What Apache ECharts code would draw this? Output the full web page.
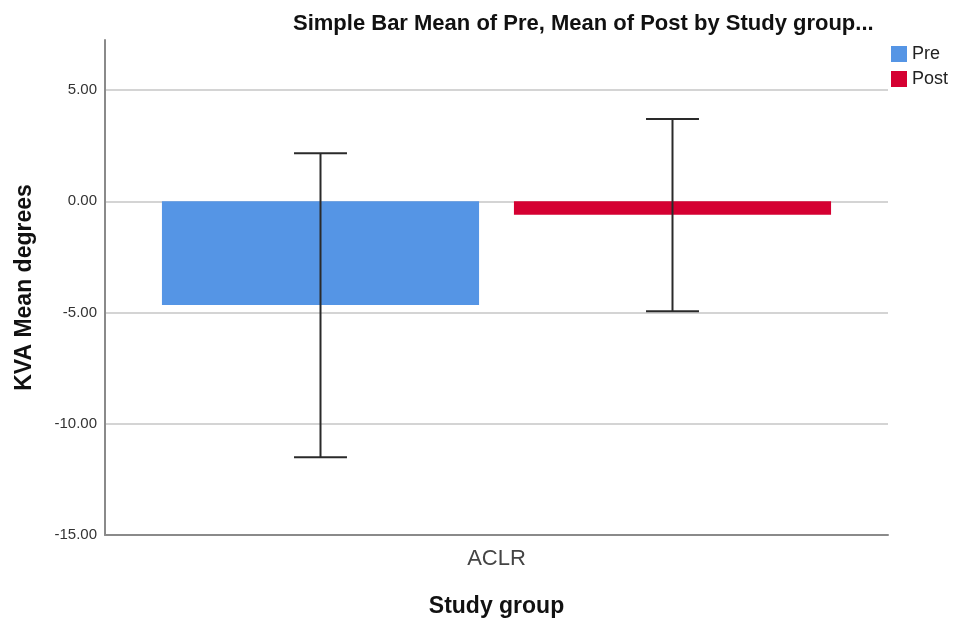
<!DOCTYPE html>
<html>
<head>
<meta charset="utf-8">
<script src="https://cdn.jsdelivr.net/npm/echarts@6/dist/echarts.min.js"></script>
<style>
html,body{margin:0;padding:0;background:#fff;}
#chart{width:953px;height:619px;}
</style>
</head>
<body>
<div id="chart"></div>
<script>
var categories = ['ACLR'];
var seriesNames = ['Pre', 'Post'];
var preMean = [-4.66];
var postMean = [-0.60];
var preLow = [-11.51];
var preHigh = [2.16];
var postLow = [-4.94];
var postHigh = [3.70];
var yTicks = [-15, -10, -5, 0, 5];

var BAR_W = 0.405;   // fraction of category band
var BAR_GAP = 0.11;  // fraction of bar width
var CAP = 0.167;     // cap width as fraction of bar width
var colors = ['#5595E5', '#D50032'];

function errorSeries(name, idx, lows, highs) {
  var sign = idx === 0 ? -1 : 1;
  return {
    name: name + ' CI',
    type: 'custom',
    z: 10,
    silent: true,
    data: categories.map(function (c, i) { return [i, lows[i], highs[i]]; }),
    renderItem: function (params, api) {
      var band = api.size([1, 0])[0];
      var barW = band * BAR_W;
      var off = sign * barW * (1 + BAR_GAP) / 2;
      var lo = api.coord([api.value(0), api.value(1)]);
      var hi = api.coord([api.value(0), api.value(2)]);
      var x = lo[0] + off;
      var cw = barW * CAP / 2;
      var st = { stroke: '#2a2a2a', lineWidth: 2 };
      return {
        type: 'group',
        children: [
          { type: 'line', shape: { x1: x, y1: hi[1], x2: x, y2: lo[1] }, style: st },
          { type: 'line', shape: { x1: x - cw, y1: hi[1], x2: x + cw, y2: hi[1] }, style: st },
          { type: 'line', shape: { x1: x - cw, y1: lo[1], x2: x + cw, y2: lo[1] }, style: st }
        ]
      };
    }
  };
}

var chart = echarts.init(document.getElementById('chart'), null, { renderer: 'canvas' });
chart.setOption({
  animation: false,
  backgroundColor: '#ffffff',
  title: {
    text: 'Simple Bar Mean of Pre, Mean of Post by Study group...',
    left: 288,
    top: 8,
    textStyle: { fontFamily: 'Liberation Sans, Arial', fontWeight: 'bold', fontSize: 22, color: '#111' }
  },
  legend: {
    data: seriesNames,
    orient: 'vertical',
    left: 886,
    top: 40,
    itemWidth: 16,
    itemHeight: 16,
    itemGap: 7,
    icon: 'rect',
    textStyle: { fontFamily: 'Liberation Sans, Arial', fontSize: 18, lineHeight: 16, color: '#222' }
  },
  grid: { left: 105, right: 65, top: 40, bottom: 84, containLabel: false, outerBoundsMode: 'none' },
  xAxis: {
    type: 'category',
    data: categories,
    name: 'Study group',
    nameLocation: 'middle',
    nameGap: 60,
    nameTextStyle: { fontFamily: 'Liberation Sans, Arial', fontWeight: 'bold', fontSize: 23, color: '#111' },
    axisLine: { show: true, onZero: false, lineStyle: { color: '#8a8a8a', width: 2 } },
    axisTick: { show: false },
    axisLabel: { margin: 13, fontFamily: 'Liberation Sans, Arial', fontSize: 22, color: '#444' }
  },
  yAxis: {
    type: 'value',
    min: -15,
    max: 7.25,
    interval: 5,
    name: 'KVA Mean degrees',
    nameLocation: 'middle',
    nameGap: 69,
    nameTextStyle: { fontFamily: 'Liberation Sans, Arial', fontWeight: 'bold', fontSize: 23, color: '#111' },
    axisLine: { show: true, lineStyle: { color: '#8a8a8a', width: 2 } },
    axisTick: { show: false },
    axisLabel: {
      margin: 8,
      fontFamily: 'Liberation Sans, Arial',
      fontSize: 15,
      color: '#333',
      showMaxLabel: false,
      formatter: function (v) { return yTicks.indexOf(v) >= 0 ? v.toFixed(2) : ''; }
    },
    splitLine: { show: true, showMinLine: false, showMaxLine: false, lineStyle: { color: '#d4d4d4', width: 2 } }
  },
  series: [
    {
      name: seriesNames[0],
      type: 'bar',
      data: preMean,
      barWidth: (BAR_W * 100) + '%',
      barGap: (BAR_GAP * 100) + '%',
      itemStyle: { color: colors[0] }
    },
    {
      name: seriesNames[1],
      type: 'bar',
      data: postMean,
      barWidth: (BAR_W * 100) + '%',
      barGap: (BAR_GAP * 100) + '%',
      itemStyle: { color: colors[1] }
    },
    errorSeries('Pre', 0, preLow, preHigh),
    errorSeries('Post', 1, postLow, postHigh)
  ]
});
</script>
</body>
</html>
